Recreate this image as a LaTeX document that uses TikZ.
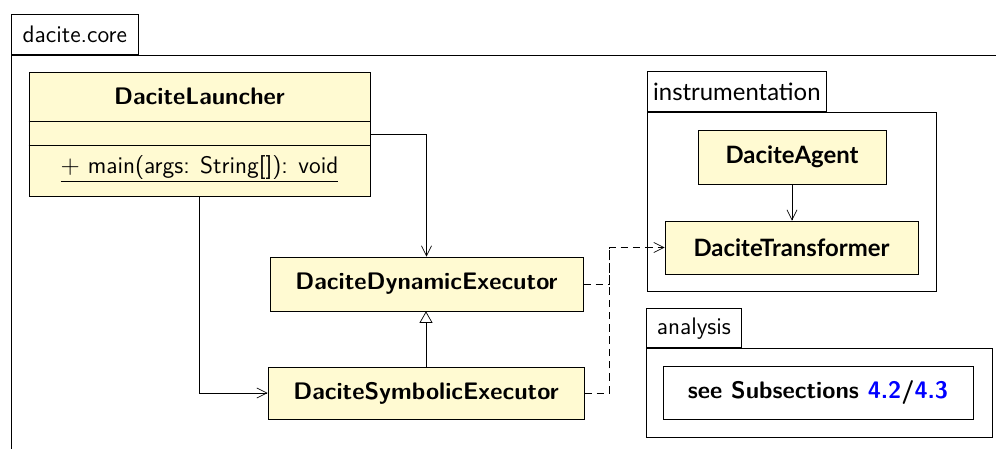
\documentclass[tikz,border=0pt]{standalone}
\usepackage{fontspec}
\newfontfamily\latofont{Lato}
\usetikzlibrary{arrows.meta}
\definecolor{classfill}{RGB}{255,250,210}
\tikzset{
  classbox/.style={draw, fill=classfill, inner sep=0pt},
  pkgbox/.style={draw, inner sep=0pt},
  dep/.style={-{Straight Barb[length=2mm,width=2mm]}},
  inherit/.style={-{Triangle[open,length=2.3mm,width=2.6mm]}},
  usedash/.style={dash pattern=on 4.2pt off 2.8pt},
}
\begin{document}
\begin{tikzpicture}[x=0.2mm,y=-0.2mm,font=\sffamily\fontsize{13.6}{16}\selectfont]
\useasboundingbox (0,0) rectangle (996,448);
% packages
\node[pkgbox, anchor=south west, minimum width=25.4mm, minimum height=8mm] (coretab) at (11,55) {dacite.core};
\node[pkgbox, anchor=north west, minimum width=200mm, minimum height=84mm] (corebody) at (coretab.south west) {};
\node[pkgbox, anchor=south west, minimum width=35.8mm, minimum height=8mm, font=\latofont\fontsize{13.6}{16}\selectfont] (instrtab) at (647,112) {instrumentation};
\node[pkgbox, anchor=north west, minimum width=57.8mm, minimum height=35.8mm] (instrbody) at (instrtab.south west) {};
\node[pkgbox, anchor=south west, minimum width=19mm, minimum height=7.8mm] (anatab) at (646,348) {analysis};
\node[pkgbox, anchor=north west, minimum width=69.2mm, minimum height=17.8mm] (anabody) at (anatab.south west) {};
% classes
\node[classbox, minimum width=68.2mm, minimum height=24.8mm] (launcher) at (199.5,134) {};
\node[font=\sffamily\bfseries\fontsize{13.6}{16}\selectfont] (launchername) at (199.5,96.5) {DaciteLauncher};
\draw (launcher.west |- 0,121) -- (launcher.east |- 0,121);
\draw (launcher.west |- 0,145) -- (launcher.east |- 0,145);
\node (launchermain) at (199.5,169) {\underline{$+$ main(args: String[]): void}};
\node[classbox, minimum width=62.6mm, minimum height=10.8mm, font=\sffamily\bfseries\fontsize{13.6}{16}\selectfont] (dde) at (426.5,284) {DaciteDynamicExecutor};
\node[classbox, minimum width=63.2mm, minimum height=10.4mm, font=\sffamily\bfseries\fontsize{13.6}{16}\selectfont] (dse) at (426,393) {DaciteSymbolicExecutor};
\node[classbox, minimum width=37.6mm, minimum height=10.8mm, font=\latofont\bfseries\fontsize{13.6}{16}\selectfont] (agent) at (792,157) {DaciteAgent};
\node[classbox, minimum width=50.6mm, minimum height=10.6mm, font=\latofont\bfseries\fontsize{13.6}{16}\selectfont] (transformer) at (791.5,247.5) {DaciteTransformer};
\node[pkgbox, minimum width=62mm, minimum height=10.6mm, font=\sffamily\bfseries\fontsize{13.6}{16}\selectfont] (seesub) at (818,392.5) {see Subsections \textcolor{blue}{4.2}/\textcolor{blue}{4.3}};
% connectors
\draw[dep] (launcher.east) -| (dde.north);
\draw[dep] (launcher.south) |- (dse.west);
\draw[inherit] (dse.north) -- (dse.north |- dde.south);
\draw[dep] (agent.south) -- (agent.south |- transformer.north);
\coordinate (join) at (609,247.5);
\draw[dep, usedash] (dde.east) -| (join) -- (transformer.west);
\draw[usedash] (dse.east) -| (join);
\end{tikzpicture}
\end{document}
